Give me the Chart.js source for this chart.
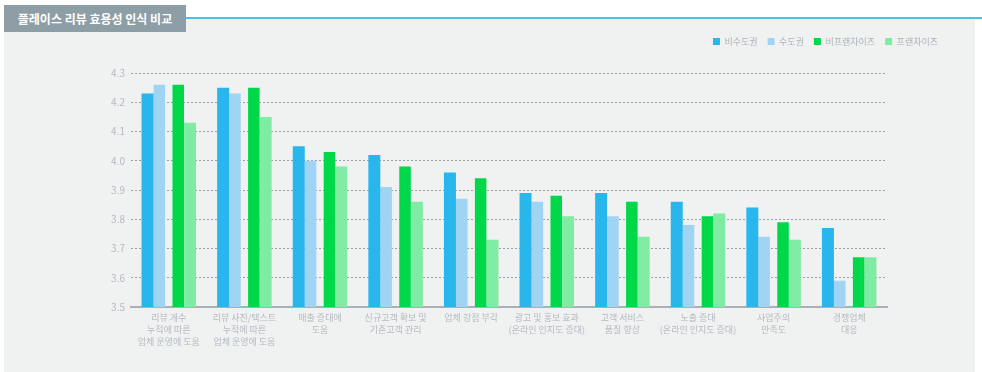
<!DOCTYPE html>
<html>
<head>
<meta charset="utf-8">
<script src="https://cdn.jsdelivr.net/npm/chart.js@4/dist/chart.umd.min.js"></script>
<style>
  body { margin: 0; background: #fff; width: 982px; height: 372px; position: relative; overflow: hidden; font-family: "Noto Sans CJK KR", "Noto Sans", sans-serif; }
  #title { position: absolute; left: 4px; top: 5px; width: 182px; height: 27px; background: #8e9ea6; color: #fff; font-size: 12px; font-weight: bold; line-height: 27px; text-align: center; white-space: nowrap; }
  #rule { position: absolute; left: 186px; top: 17px; width: 796px; height: 2px; background: #45c3ec; }
  #panel { position: absolute; left: 4px; top: 19px; width: 971px; height: 353px; background: #f0f2f1; }
  #chartWrap { position: absolute; left: 0; top: 0; width: 971px; height: 353px; }
</style>
</head>
<body>
<div id="panel"><div id="chartWrap"><canvas id="effChart"></canvas></div></div>
<div id="title">플레이스 리뷰 효용성 인식 비교</div>
<div id="rule"></div>
<script>
// chart data
const categories = [
    ['리뷰 개수', '누적에 따른', '업체 운영에 도움'],
    ['리뷰 사진/텍스트', '누적에 따른', '업체 운영에 도움'],
    ['매출 증대에', '도움'],
    ['신규고객 확보 및', '기존고객 관리'],
    '업체 강점 부각',
    ['광고 및 홍보 효과', '(온라인 인지도 증대)'],
    ['고객 서비스', '품질 향상'],
    ['노출 증대', '(온라인 인지도 증대)'],
    ['사업주의', '만족도'],
    ['경쟁업체', '대응']
];
const seriesNames = ['비수도권', '수도권', '비프랜차이즈', '프랜차이즈'];
const nonMetro = [4.23, 4.25, 4.05, 4.02, 3.96, 3.89, 3.89, 3.86, 3.84, 3.77];
const metro = [4.26, 4.23, 4.00, 3.91, 3.87, 3.86, 3.81, 3.78, 3.74, 3.59];
const nonFranchise = [4.26, 4.25, 4.03, 3.98, 3.94, 3.88, 3.86, 3.81, 3.79, 3.67];
const franchise = [4.13, 4.15, 3.98, 3.86, 3.73, 3.81, 3.74, 3.82, 3.73, 3.67];
const yMin = 3.5, yMax = 4.3, yStep = 0.1;

Chart.defaults.font.family = '"Noto Sans CJK KR", "Noto Sans", sans-serif';
Chart.defaults.font.size = 10;

// outer pair uses narrower category share so pairs sit together with a gap in the middle
const pairStyle = [
    { categoryPercentage: 0.75, barPercentage: 0.847 },
    { categoryPercentage: 1.0, barPercentage: 0.61 },
    { categoryPercentage: 1.0, barPercentage: 0.61 },
    { categoryPercentage: 0.75, barPercentage: 0.847 }
];
const colors = ['#29b6ec', '#9fd4f3', '#00d84a', '#80eca3'];
const values = [nonMetro, metro, nonFranchise, franchise];

const ctx = document.getElementById('effChart').getContext('2d');
const effChart = new Chart(ctx, {
    type: 'bar',
    data: {
        labels: categories,
        datasets: values.map((v, i) => ({
            label: seriesNames[i],
            data: v,
            backgroundColor: colors[i],
            borderWidth: 0,
            categoryPercentage: pairStyle[i].categoryPercentage,
            barPercentage: pairStyle[i].barPercentage
        }))
    },
    options: {
        responsive: true,
        maintainAspectRatio: false,
        animation: false,
        layout: { padding: { top: 8, right: 27, bottom: 0, left: 0 } },
        plugins: {
            legend: {
                position: 'top',
                align: 'end',
                labels: { boxWidth: 7, boxHeight: 7, padding: 10, color: '#a9b2ba', font: { size: 9 } }
            },
            tooltip: { enabled: false }
        },
        scales: {
            x: {
                grid: { display: false, drawTicks: false },
                border: { color: '#a7b1b7', width: 2 },
                ticks: { color: '#b2bac2', padding: 5, maxRotation: 0, autoSkip: false, font: { size: 9, lineHeight: 1.33 } },
                afterFit: (s) => { s.height = 65; }
            },
            xTop: {
                type: 'category',
                position: 'top',
                labels: categories,
                grid: { display: false, drawTicks: false },
                border: { display: false },
                ticks: { display: false },
                afterFit: (s) => { s.height = 17; }
            },
            y: {
                min: yMin,
                max: yMax,
                ticks: {
                    stepSize: yStep,
                    color: '#b2bac2',
                    padding: 6,
                    font: { size: 10 },
                    callback: (v) => Number(v).toFixed(1)
                },
                grid: { color: '#98a1a9', lineWidth: 1, drawTicks: false },
                border: { display: false, dash: [2, 2] },
                afterFit: (s) => { s.width = 127; }
            },
            yRight: {
                position: 'right',
                grid: { display: false, drawTicks: false },
                border: { display: false },
                ticks: { display: false },
                afterFit: (s) => { s.width = 61; }
            }
        }
    }
});
</script>
</body>
</html>
